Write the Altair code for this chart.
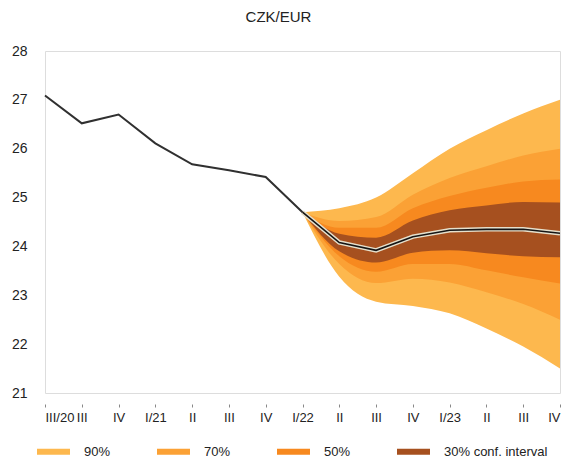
import altair as alt
import pandas as pd

# ---- data ----
labels = ["III/20", "III", "IV", "I/21", "II", "III", "IV", "I/22",
          "II", "III", "IV", "I/23", "II", "III", "IV"]
history = [27.09, 26.52, 26.70, 26.11, 25.68, 25.56, 25.42, 24.70]
forecast = [24.70, 24.08, 23.92, 24.20, 24.33, 24.35, 24.35, 24.27]

lo90 = [24.70, 23.38, 22.87, 22.78, 22.63, 22.32, 21.95, 21.50]
hi90 = [24.70, 24.78, 25.00, 25.50, 26.00, 26.38, 26.72, 27.00]
lo70 = [24.70, 23.64, 23.25, 23.34, 23.26, 23.06, 22.82, 22.50]
hi70 = [24.70, 24.52, 24.60, 25.06, 25.40, 25.64, 25.86, 26.00]
lo50 = [24.70, 23.80, 23.48, 23.64, 23.64, 23.51, 23.37, 23.24]
hi50 = [24.70, 24.38, 24.38, 24.78, 25.03, 25.20, 25.33, 25.37]
lo30 = [24.70, 23.90, 23.67, 23.87, 23.92, 23.86, 23.80, 23.78]
hi30 = [24.70, 24.26, 24.18, 24.53, 24.74, 24.84, 24.91, 24.90]

band_names = ["90%", "70%", "50%", "30% conf. interval"]
band_colors = ["#FDB84E", "#FBA135", "#F7891F", "#A6501F"]

FONT = "Liberation Sans"
fc_start = len(history) - 1

hist_df = pd.DataFrame({"t": list(range(len(history))), "v": history})
fc_df = pd.DataFrame({"t": list(range(fc_start, fc_start + len(forecast))), "v": forecast})

rows = []
for name, lo, hi in zip(band_names, [lo90, lo70, lo50, lo30], [hi90, hi70, hi50, hi30]):
    for i, (a, b) in enumerate(zip(lo, hi)):
        rows.append({"band": name, "t": fc_start + i, "lo": a, "hi": b})
band_df = pd.DataFrame(rows)

label_js = "[" + ",".join("'%s'" % s for s in labels) + "]"

x_enc = alt.X(
    "t:Q",
    scale=alt.Scale(domain=[0, len(labels) - 1], nice=False, zero=False),
    axis=alt.Axis(
        values=list(range(len(labels))),
        labelExpr=label_js + "[datum.value]",
        title=None, domain=False, grid=False,
        ticks=True, tickSize=3, tickColor="#888888", tickWidth=1,
        offset=11, labelPadding=4,
        labelFont=FONT, labelFontSize=13, labelColor="#222222",
    ),
)
y_scale = alt.Scale(domain=[21, 28], nice=False, zero=False)
y_axis = alt.Axis(
    values=[21, 22, 23, 24, 25, 26, 27, 28],
    title=None, domain=False, ticks=False, grid=False,
    labelPadding=18, labelFont=FONT, labelFontSize=14, labelColor="#222222",
)

color_scale = alt.Scale(domain=band_names, range=band_colors)

layers = []
for name in band_names:
    layers.append(
        alt.Chart(band_df[band_df["band"] == name])
        .mark_area(interpolate="monotone", opacity=1)
        .encode(
            x=x_enc,
            y=alt.Y("lo:Q", scale=y_scale, axis=y_axis),
            y2="hi:Q",
            color=alt.Color(
                "band:N", scale=color_scale,
                legend=alt.Legend(
                    title=None, orient="none", direction="horizontal",
                    legendX=-8, legendY=384,
                    symbolType="M-1,-0.18L1,-0.18L1,0.18L-1,0.18Z",
                    symbolSize=1089, symbolStrokeWidth=0, symbolOpacity=1,
                    columnPadding=46, labelOffset=14,
                    labelFont=FONT, labelFontSize=13, labelColor="#222222",
                ),
            ),
        )
    )

hist_line = alt.Chart(hist_df).mark_line(color="#303030", strokeWidth=2).encode(
    x=x_enc, y=alt.Y("v:Q", scale=y_scale, axis=y_axis)
)
fc_halo = alt.Chart(fc_df).mark_line(color="#E6E0CC", strokeWidth=4.5).encode(
    x=x_enc, y=alt.Y("v:Q", scale=y_scale, axis=y_axis)
)
fc_line = alt.Chart(fc_df).mark_line(color="#151515", strokeWidth=1.6).encode(
    x=x_enc, y=alt.Y("v:Q", scale=y_scale, axis=y_axis)
)

chart = (
    alt.layer(*layers, hist_line, fc_halo, fc_line)
    .properties(
        width=515, height=342,
        autosize=alt.AutoSizeParams(type="none"),
        padding={"left": 37, "top": 43, "right": 1, "bottom": 67},
        title=alt.TitleParams(
            "CZK/EUR", anchor="middle", dx=-24, offset=19,
            font=FONT, fontSize=15, fontWeight="normal", color="#222222",
        ),
    )
    .configure_view(stroke=None)
    .configure(background="white")
)

chart.save("out.html", embed_options={"renderer": "svg", "actions": False})
